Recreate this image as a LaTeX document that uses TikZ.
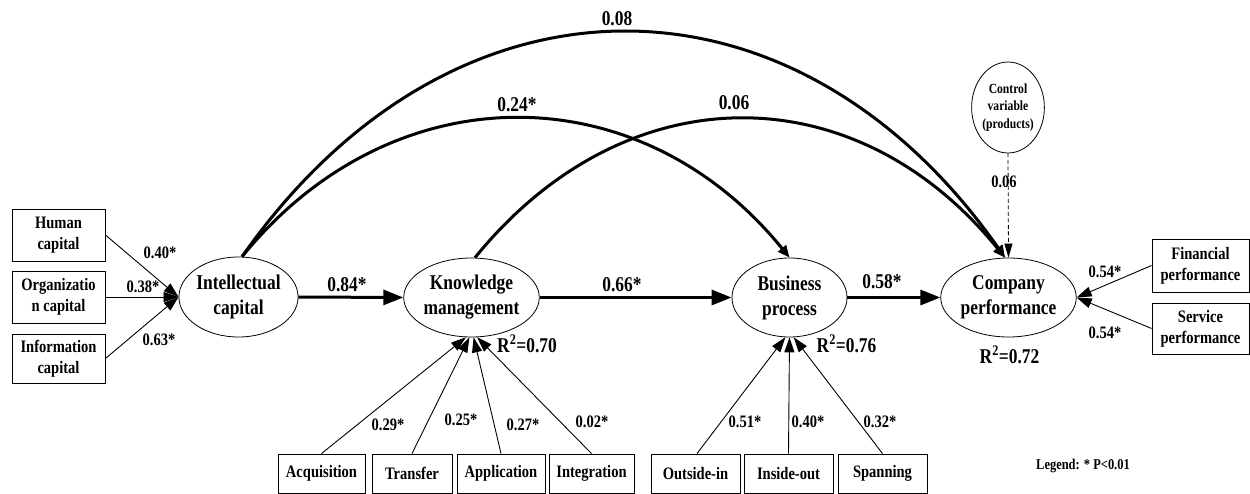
\documentclass[tikz,border=0pt]{standalone}
\usepackage{fontspec}
\setmainfont{Liberation Serif}[FakeStretch=0.83]
\usetikzlibrary{arrows.meta,shapes.geometric,calc}
\begin{document}
\begin{tikzpicture}[x=1pt,y=-1pt,
  lat/.style={ellipse,draw,line width=0.8pt,inner sep=0pt,align=center,font=\bfseries\fontsize{21}{25}\selectfont},
  ind/.style={rectangle,draw,line width=0.9pt,inner sep=0pt,align=center,font=\bfseries\fontsize{17.5}{21}\selectfont},
  lbl/.style={font=\bfseries\fontsize{17.5}{21}\selectfont,inner sep=0pt},
  big/.style={font=\bfseries\fontsize{21}{25}\selectfont,inner sep=0pt},
  mainarrow/.style={line width=3pt,-{Triangle[length=20pt,width=15pt]}},
  arcarrow/.style={line width=3pt,-{Triangle[length=12pt,width=10pt]}},
  indarrow/.style={line width=0.9pt,-{Triangle[length=15pt,width=10pt]}},
]
\useasboundingbox (0,0) rectangle (1250,494);

% latent variables
\node[lat,minimum width=115pt,minimum height=80pt] (ic) at (238.5,297) {Intellectual\\capital};
\node[lat,minimum width=121pt,minimum height=79pt] (km) at (471.5,297.5) {Knowledge\\management};
\node[lat,minimum width=115pt,minimum height=79pt] (bp) at (789.5,297.5) {Business\\process};
\node[lat,minimum width=121pt,minimum height=79pt] (cp) at (1008.5,297.5) {Company\\performance};
\node[lat,minimum width=72pt,minimum height=91pt,font=\bfseries\fontsize{14}{17.5}\selectfont] (ctrl) at (1008,107.5) {Control\\variable\\(products)};

% indicators
\node[ind,minimum width=93pt,minimum height=52pt] (human) at (58.5,235) {Human\\capital};
\node[ind,minimum width=93pt,minimum height=52pt] (org) at (58.5,297) {Organizatio\\n capital};
\node[ind,minimum width=93pt,minimum height=49pt] (info) at (58.5,358.5) {Information\\capital};
\node[ind,minimum width=97pt,minimum height=53pt] (fin) at (1200.5,265.5) {Financial\\performance};
\node[ind,minimum width=97pt,minimum height=51pt] (serv) at (1200.5,328.5) {Service\\performance};
\node[ind,minimum width=87pt,minimum height=39pt] (acq) at (321.5,473.5) {Acquisition};
\node[ind,minimum width=80pt,minimum height=39pt] (trans) at (412,473.5) {Transfer};
\node[ind,minimum width=88pt,minimum height=39pt] (appl) at (501,473.5) {Application};
\node[ind,minimum width=85pt,minimum height=39pt] (integ) at (591.5,473.5) {Integration};
\node[ind,minimum width=89pt,minimum height=39pt] (oi) at (695.5,473.5) {Outside-in};
\node[ind,minimum width=89pt,minimum height=39pt] (io) at (788.5,473.5) {Inside-out};
\node[ind,minimum width=89pt,minimum height=39pt] (span) at (882.5,473.5) {Spanning};

% structural paths
\draw[mainarrow] (ic.east) -- (km.west);
\draw[mainarrow] (km.east) -- (bp.west);
\draw[mainarrow] (bp.east) -- (cp.west);
\draw[arcarrow] (ic.85) .. controls +(210,-300) and +(-210,-300) .. (cp.95);
\draw[arcarrow] (ic.85) .. controls +(150,-185) and +(-150,-185) .. (bp.north);
\draw[arcarrow] (km.85) .. controls +(150,-185) and +(-150,-185) .. (cp.95);
\draw[line width=0.8pt,dash pattern=on 4pt off 2.5pt,-{Triangle[length=14pt,width=8pt]}] (ctrl.south) -- (cp.north);

% measurement paths
\draw[indarrow] (human.east) -- (ic.west);
\draw[indarrow] (org.east) -- (ic.west);
\draw[indarrow] (info.east) -- (ic.west);
\draw[indarrow] (fin.west) -- (cp.east);
\draw[indarrow] (serv.west) -- (cp.east);
\draw[indarrow] (acq.north) -- (km.262);
\draw[indarrow] (trans.north) -- (km.267);
\draw[indarrow] (appl.north) -- (km.273);
\draw[indarrow] (integ.north) -- (km.278);
\draw[indarrow] ([xshift=1.5pt]oi.north) -- (bp.264);
\draw[indarrow] (io.north) -- (bp.270);
\draw[indarrow] (span.north) -- (bp.276);

% labels
\node[lbl] (l1) at (160,253) {0.40*};
\node[lbl] (l2) at (143,287) {0.38*};
\node[lbl] (l3) at (159,340) {0.63*};
\node[big] (l4) at (347,285) {0.84*};
\node[big] (l5) at (622,285) {0.66*};
\node[big] (l6) at (882,282) {0.58*};
\node[big] (r1) at (527,344) {R\textsuperscript{2}=0.70};
\node[big] (r2) at (846.5,344) {R\textsuperscript{2}=0.76};
\node[big] (r3) at (1009.5,355) {R\textsuperscript{2}=0.72};
\node[lbl] (l7) at (388,425) {0.29*};
\node[lbl] (l8) at (461,420) {0.25*};
\node[lbl] (l9) at (523,425) {0.27*};
\node[lbl] (l10) at (592,422) {0.02*};
\node[lbl] (l11) at (745,422) {0.51*};
\node[lbl] (l12) at (808,422) {0.40*};
\node[lbl] (l13) at (880,422) {0.32*};
\node[lbl] (l14) at (1105,272) {0.54*};
\node[lbl] (l15) at (1105,333) {0.54*};
\node[big] (l16) at (617,19) {0.08};
\node[big] (l17) at (517,105) {0.24*};
\node[big] (l18) at (734,103) {0.06};
\node[lbl] (l19) at (1004,182) {0.06};
\node[font=\bfseries\fontsize{15}{18}\selectfont,inner sep=0pt] (leg) at (1083,466) {Legend: * P<0.01};
\end{tikzpicture}
\end{document}
